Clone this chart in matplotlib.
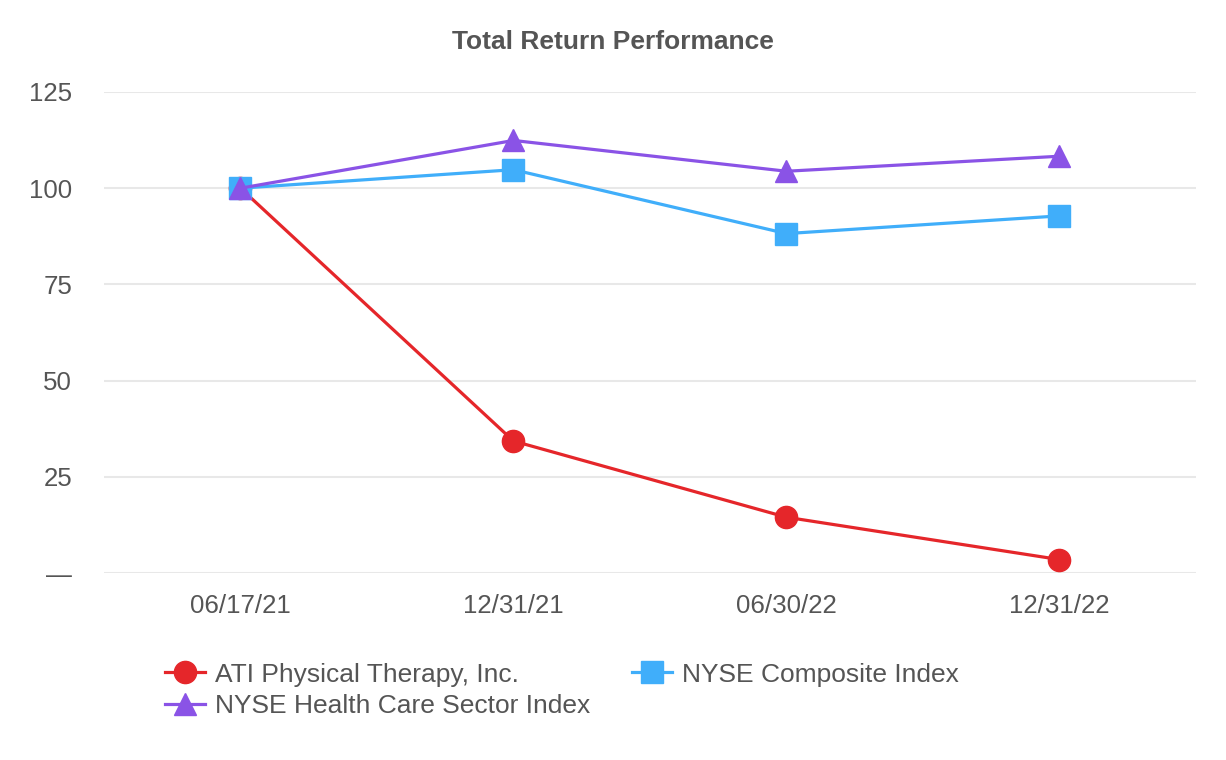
import numpy as np
import matplotlib.pyplot as plt
from matplotlib.ticker import FuncFormatter

dates = ['06/17/21', '12/31/21', '06/30/22', '12/31/22']
ati = [100, 34.3, 14.5, 3.5]
nyse_comp = [100, 104.8, 88.2, 92.8]
nyse_health = [100, 112.4, 104.4, 108.3]

plt.rcParams['font.family'] = ['Liberation Sans', 'DejaVu Sans']
text_color = '#555555'

fig = plt.figure(figsize=(12.26, 7.6), dpi=100)
ax = fig.add_axes([0.0848, 0.246, 0.8907, 0.633])

x = np.arange(len(dates))
l1, = ax.plot(x, ati, color='#E5262A', lw=2.3, marker='o', ms=16, label='ATI Physical Therapy, Inc.', zorder=3)
l2, = ax.plot(x, nyse_comp, color='#40AEFA', lw=2.3, marker='s', ms=16, label='NYSE Composite Index', zorder=4)
l3, = ax.plot(x, nyse_health, color='#8A53E6', lw=2.3, marker='^', ms=16, label='NYSE Health Care Sector Index', zorder=5)

ax.set_xlim(-0.5, 3.5)
ax.set_ylim(0, 125)
ax.set_xticks(x)
ax.set_xticklabels(dates)
ax.set_yticks([0, 25, 50, 75, 100, 125])
ax.yaxis.set_major_formatter(FuncFormatter(lambda v, p: '\u2014' if v == 0 else '%d' % v))

ax.grid(axis='y', color='#e8e8e8', lw=1.5)
ax.set_axisbelow(True)
for s in ax.spines.values():
    s.set_visible(False)
ax.tick_params(length=0, labelsize=18.6, colors=text_color)
ax.tick_params(axis='x', pad=15)
ax.tick_params(axis='y', pad=23)

fig.text(0.5, 0.945, 'Total Return Performance', ha='center', va='center',
         fontsize=19, fontweight='bold', color=text_color)

# row order: ATI | Composite, then Health Care
leg = ax.legend([l1, l3, l2], [l1.get_label(), l3.get_label(), l2.get_label()],
                loc='upper left', bbox_to_anchor=(0.0559, -0.186), ncol=2, frameon=False,
                fontsize=19, handlelength=1.5, columnspacing=1.6, labelspacing=0.3,
                handletextpad=0.38, borderpad=0, borderaxespad=0)
for t in leg.get_texts():
    t.set_color(text_color)

fig.savefig('out.png', dpi=100)
